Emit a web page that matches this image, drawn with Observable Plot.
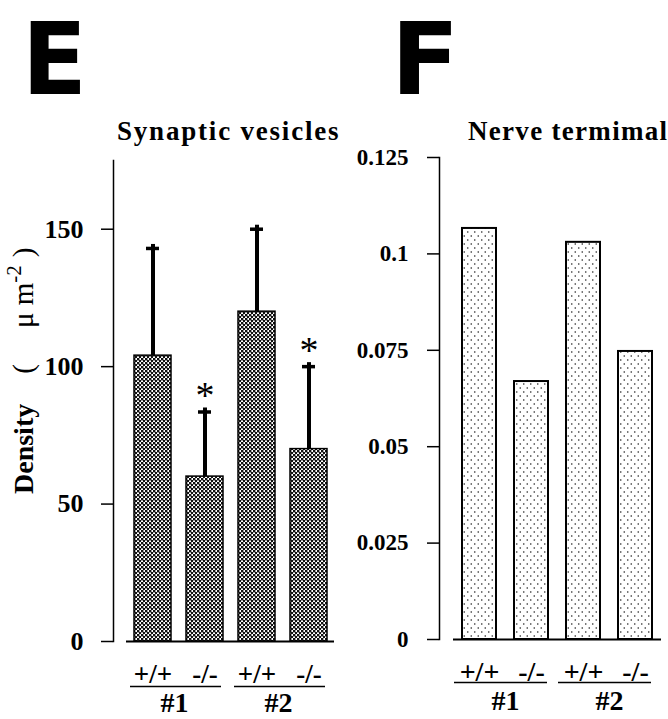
<!DOCTYPE html>
<html><head><meta charset="utf-8">
<script src="https://cdn.jsdelivr.net/npm/d3@7"></script>
<script src="https://cdn.jsdelivr.net/npm/@observablehq/plot@0.6"></script>
<style>
body{margin:0;background:#fff;}
#wrap{position:relative;width:668px;height:719px;overflow:hidden;font-family:"Liberation Serif","Times New Roman",serif;color:#000;}
.big{position:absolute;top:1px;font-family:"DejaVu Sans",sans-serif;font-weight:bold;font-size:100px;line-height:normal;transform-origin:0 0;}
.title{position:absolute;font-weight:bold;font-size:27px;white-space:nowrap;line-height:1;}
.plot{position:absolute;top:150px;}
.ylab{position:absolute;left:9px;top:494px;transform-origin:0 0;transform:rotate(-90deg);white-space:nowrap;line-height:1;font-size:28px;font-weight:bold;}
.ylab .u{font-weight:normal;font-size:29px;}
.ylab .p{display:inline-block;}
.ylab sup{font-size:21px;vertical-align:12px;line-height:0;}
</style></head>
<body><div id="wrap">
<div class="big" style="left:22px;transform:scaleX(0.95);">E</div>
<div class="big" style="left:391px;">F</div>
<div class="title" style="left:117px;top:118px;letter-spacing:1.8px;">Synaptic vesicles</div>
<div class="title" style="left:468px;top:118px;letter-spacing:1.3px;">Nerve termimal</div>
<div class="ylab">Density<span class="u"><span class="p" style="margin-left:30px;">(</span><span class="p" style="margin-left:36px;">μ</span> m<sup>-2</sup><span class="p" style="margin-left:8px;">)</span></span></div>
<div id="pE" class="plot" style="left:0px;"></div>
<div id="pF" class="plot" style="left:340px;"></div>
</div>
<script>
// ---- data ----
const groups = ["#1", "#1", "#2", "#2"];
const genotypes = ["+/+", "-/-", "+/+", "-/-"];
const vesicleDensity = [104, 60, 120, 70];
const vesicleSD = [39, 23.5, 30, 30];
const significant = [false, true, false, true];
const terminalDensity = [0.1066, 0.0669, 0.103, 0.0747];
const yTicksE = [0, 50, 100, 150];
const yTicksF = [0, 0.025, 0.05, 0.075, 0.1, 0.125];

const dataE = groups.map((g, i) => ({group: g, genotype: genotypes[i], value: vesicleDensity[i], sd: vesicleSD[i], sig: significant[i]}));
const dataF = groups.map((g, i) => ({group: g, genotype: genotypes[i], value: terminalDensity[i]}));

const FF = "Liberation Serif";
const baseStyle = {fontFamily: FF, fontWeight: "bold", background: "transparent", overflow: "visible", color: "#000"};

const plotE = Plot.plot({
  width: 340, height: 569,
  marginTop: 10, marginBottom: 78, marginLeft: 125, marginRight: 6,
  style: baseStyle,
  fx: {domain: ["#1", "#2"], padding: 0, label: null},
  x: {domain: ["+/+", "-/-"], paddingInner: 0.29, paddingOuter: 0.145, label: null},
  y: {domain: [0, 175], label: null},
  marks: [
    Plot.frame({anchor: "left", facetAnchor: "left", dx: -13, strokeWidth: 1.5}),
    Plot.axisY({ticks: yTicksE, tickSize: 12, tickPadding: 18, dx: -13, fontSize: 26, fontFamily: FF, fontWeight: "bold", strokeWidth: 1.5, label: null}),
    Plot.axisX({tickSize: 0, tickPadding: 22, fontSize: 27, fontFamily: FF, fontWeight: "bold", label: null}),
    Plot.axisFx({anchor: "bottom", tickSize: 0, tickPadding: 51, fontSize: 28, fontFamily: FF, fontWeight: "bold", label: null, dx: -4}),
    Plot.barY(dataE, {fx: "group", x: "genotype", y: "value", fill: "url(#checker)", stroke: "#000", strokeWidth: 1.5}),
    Plot.ruleX(dataE, {fx: "group", x: "genotype", y1: "value", y2: d => d.value + d.sd, strokeWidth: 4, insetBottom: 4}),
    Plot.tickY(dataE, {fx: "group", x: "genotype", y: d => d.value + d.sd, strokeWidth: 3.5, inset: 12}),
    Plot.text(dataE.filter(d => d.sig), {fx: "group", x: "genotype", y: d => d.value + d.sd, text: () => "*", dy: -16, fontSize: 38, fontFamily: FF, fontWeight: "normal"}),
    Plot.ruleY([0], {strokeWidth: 2}),
    Plot.ruleY([0], {dy: 45, insetLeft: 4, insetRight: 9, strokeWidth: 1.5})
  ]
});

const plotF = Plot.plot({
  width: 328, height: 569,
  marginTop: 7, marginBottom: 80, marginLeft: 113, marginRight: 7,
  style: baseStyle,
  fx: {domain: ["#1", "#2"], padding: 0, label: null},
  x: {domain: ["+/+", "-/-"], paddingInner: 0.34, paddingOuter: 0.17, label: null},
  y: {domain: [0, 0.125], label: null},
  marks: [
    Plot.frame({anchor: "left", facetAnchor: "left", dx: -14, strokeWidth: 1.5}),
    Plot.axisY({ticks: yTicksF, tickFormat: d => String(d), tickSize: 12, tickPadding: 19, dx: -14, fontSize: 23, fontFamily: FF, fontWeight: "bold", strokeWidth: 1.5, label: null}),
    Plot.axisX({tickSize: 0, tickPadding: 22, fontSize: 28, fontFamily: FF, fontWeight: "bold", label: null}),
    Plot.axisFx({anchor: "bottom", tickSize: 0, tickPadding: 51, fontSize: 28, fontFamily: FF, fontWeight: "bold", label: null}),
    Plot.barY(dataF, {fx: "group", x: "genotype", y: "value", fill: "url(#dots)", stroke: "#000", strokeWidth: 2}),
    Plot.ruleY([0], {strokeWidth: 2}),
    Plot.ruleY([0], {dy: 43, insetLeft: 1, insetRight: 10, strokeWidth: 1.5})
  ]
});

function addDefs(svg, html) {
  const defs = document.createElementNS("http://www.w3.org/2000/svg", "defs");
  defs.innerHTML = html;
  svg.insertBefore(defs, svg.firstChild);
}
addDefs(plotE, '<pattern id="checker" width="4" height="4" patternUnits="userSpaceOnUse"><rect width="4" height="4" fill="#fff"/><rect width="2.4" height="2.4" fill="#111"/><rect x="2" y="2" width="2.4" height="2.4" fill="#111"/></pattern>');
addDefs(plotF, '<pattern id="dots" width="7" height="8" patternUnits="userSpaceOnUse"><rect width="7" height="8" fill="#fff"/><circle cx="1.75" cy="2" r="0.8" fill="#222"/><circle cx="5.25" cy="6" r="0.8" fill="#222"/></pattern>');

document.getElementById("pE").appendChild(plotE);
document.getElementById("pF").appendChild(plotF);
</script>
</body></html>
